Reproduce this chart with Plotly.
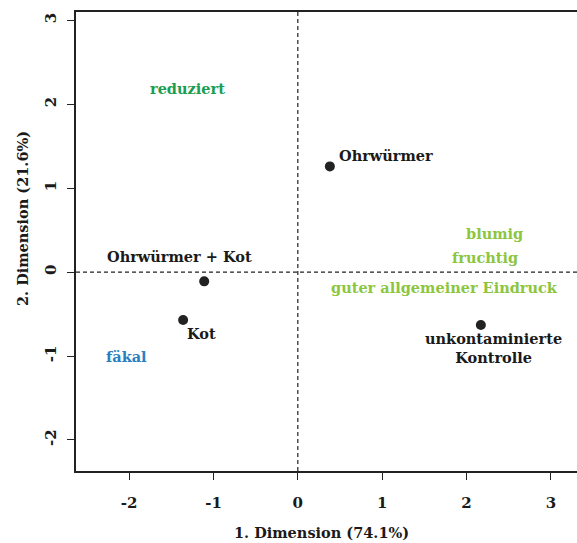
import plotly.graph_objects as go

# Data
sample_names = ["Ohrwürmer", "Ohrwürmer + Kot", "Kot", "unkontaminierte<br>Kontrolle"]
sample_x = [0.38, -1.11, -1.36, 2.17]
sample_y = [1.26, -0.11, -0.57, -0.63]

attr_names = ["reduziert", "fäkal", "blumig", "fruchtig", "guter allgemeiner Eindruck"]
attr_x = [-1.31, -2.03, 2.33, 2.22, 1.74]
attr_y = [2.19, -1.0, 0.46, 0.17, -0.18]
attr_colors = ["#1a9e50", "#2a7fc1", "#8cc63f", "#8cc63f", "#8cc63f"]

x_ticks = [-2, -1, 0, 1, 2, 3]
y_ticks = [-2, -1, 0, 1, 2, 3]

x_title = "1. Dimension (74.1%)"
y_title = "2. Dimension (21.6%)"

FONT = "DejaVu Serif"

fig = go.Figure()

fig.add_trace(go.Scatter(
    x=sample_x, y=sample_y, mode="markers",
    marker=dict(size=10, color="#222222"),
    hoverinfo="skip", showlegend=False,
))

# Sample labels (offsets relative to the points)
label_anchor = ["left", "center", "center", "center"]
label_shift = [(7, 11), (-25, 25), (18, -14), (13, -23)]
for name, x, y, anc, (dx, dy) in zip(sample_names, sample_x, sample_y, label_anchor, label_shift):
    fig.add_annotation(x=x, y=y, text="<b>" + name + "</b>", showarrow=False,
                       xanchor=anc, xshift=dx, yshift=dy,
                       font=dict(family=FONT, size=14.5, color="#1a1a1a"))

for name, x, y, c in zip(attr_names, attr_x, attr_y, attr_colors):
    fig.add_annotation(x=x, y=y, text="<b>" + name + "</b>", showarrow=False,
                       xanchor="center", yanchor="middle",
                       font=dict(family=FONT, size=14.5, color=c))

# Axis titles
fig.add_annotation(xref="paper", yref="paper", x=0.491, y=0, yshift=-61,
                   text="<b>" + x_title + "</b>", showarrow=False,
                   xanchor="center", yanchor="middle",
                   font=dict(family=FONT, size=14.5, color="#1a1a1a"))
fig.add_annotation(xref="paper", yref="paper", x=0, y=0.549, xshift=-54,
                   text="<b>" + y_title + "</b>", showarrow=False, textangle=-90,
                   xanchor="center", yanchor="middle",
                   font=dict(family=FONT, size=14.5, color="#1a1a1a"))

fig.add_shape(type="line", xref="x", yref="paper", x0=0, x1=0, y0=0, y1=1,
              line=dict(color="#222222", width=1.2, dash="4px,3px"))
fig.add_shape(type="line", xref="paper", yref="y", x0=0, x1=1, y0=0, y1=0,
              line=dict(color="#222222", width=1.2, dash="4px,3px"))

fig.update_layout(
    width=577, height=543,
    margin=dict(l=76, r=0, t=12, b=72),
    plot_bgcolor="white", paper_bgcolor="white",
    font=dict(family=FONT, size=14, color="#1a1a1a"),
    xaxis=dict(range=[-2.63, 3.31], tickvals=x_ticks, ticktext=[str(v) for v in x_ticks],
               showgrid=False, zeroline=False, showline=True, linecolor="#222222", linewidth=1.5,
               mirror=True, ticks="outside", ticklen=7, tickcolor="#222222",
               ticklabelstandoff=10,
               tickfont=dict(family=FONT, size=15, weight="bold")),
    yaxis=dict(range=[-2.37, 3.10], tickvals=y_ticks, ticktext=[str(v) for v in y_ticks],
               showgrid=False, zeroline=False, showline=True, linecolor="#222222", linewidth=1.5,
               ticks="outside", ticklen=7, tickcolor="#222222", tickangle=-90,
               ticklabelstandoff=5,
               tickfont=dict(family=FONT, size=15, weight="bold")),
)

fig.write_html("out.html", config={"displayModeBar": False},
               post_script="document.body.style.margin='0';")
